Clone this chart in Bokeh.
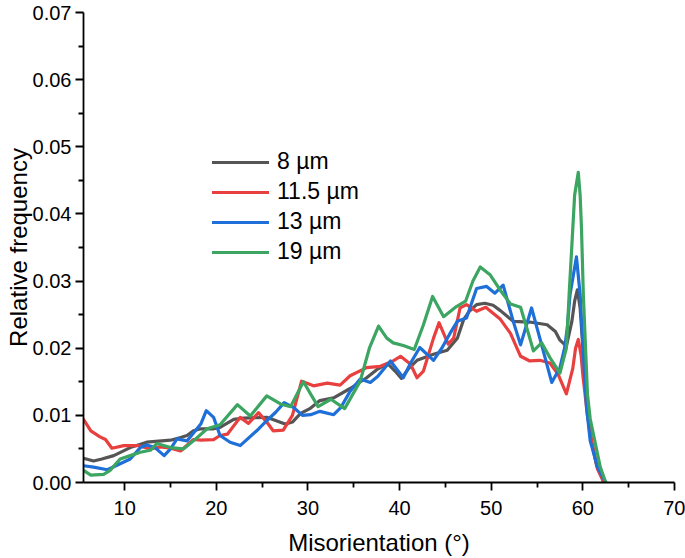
from bokeh.plotting import figure
from bokeh.models import Range1d, FixedTicker, Legend, LegendItem, NumeralTickFormatter
from bokeh.embed import file_html
from bokeh.resources import INLINE

# ---- data ----
series_names = ["8 µm", "11.5 µm", "13 µm", "19 µm"]
series_colors = ["#555555", "#e8403f", "#1f6fd9", "#3ba561"]

x_8um = [5.5, 6.6, 7.5, 8.8, 10.6, 12.4, 15.0, 16.1, 16.8, 17.5, 18.3, 19.7, 20.4, 21.9,
         23.0, 25.5, 27.5, 28.3, 29.2, 30.2, 31.3, 32.8, 34.6, 36.4, 37.5, 38.7, 39.5,
         40.2, 41.0, 41.9, 43.7, 45.2, 46.3, 47.0, 47.6, 48.4, 49.3, 50.2, 51.0, 52.4,
         54.2, 56.1, 57.0, 57.5, 58.2, 58.8, 59.1, 59.4, 59.7, 60.0, 60.4, 60.8, 61.5, 62.3]
y_8um = [0.0036, 0.0032, 0.0035, 0.0040, 0.0052, 0.0060, 0.0063, 0.0067, 0.0070, 0.0077,
         0.0080, 0.0080, 0.0082, 0.0094, 0.0096, 0.0097, 0.0087, 0.0090, 0.0103, 0.0110,
         0.0122, 0.0126, 0.0140, 0.0156, 0.0168, 0.0177, 0.0166, 0.0155, 0.0170, 0.0182,
         0.0191, 0.0197, 0.0215, 0.0243, 0.0255, 0.0265, 0.0267, 0.0264, 0.0256, 0.0240,
         0.0239, 0.0235, 0.0225, 0.0212, 0.0203, 0.0240, 0.0270, 0.0287, 0.0260, 0.0200,
         0.0120, 0.0070, 0.0025, 0.0000]

x_11um = [5.5, 6.3, 7.3, 7.9, 8.6, 9.9, 11.4, 12.8, 13.9, 15.0, 16.1, 17.5, 18.3, 19.7,
          20.4, 21.2, 22.6, 23.5, 24.6, 25.5, 26.2, 27.3, 28.3, 29.3, 30.6, 32.1, 33.5,
          34.6, 36.4, 37.9, 39.3, 40.1, 41.2, 41.9, 42.6, 43.7, 44.3, 45.3, 45.9, 46.6,
          47.3, 48.4, 49.4, 51.0, 52.1, 53.2, 54.2, 55.3, 56.4, 57.3, 58.2, 58.9, 59.2,
          59.5, 59.8, 60.0, 60.5, 61.0, 61.6, 62.3]
y_11um = [0.0094, 0.0077, 0.0068, 0.0064, 0.0051, 0.0055, 0.0055, 0.0050, 0.0053, 0.0051,
          0.0047, 0.0064, 0.0063, 0.0064, 0.0070, 0.0072, 0.0097, 0.0088, 0.0104, 0.0090,
          0.0077, 0.0078, 0.0100, 0.0151, 0.0144, 0.0148, 0.0145, 0.0159, 0.0171, 0.0173,
          0.0181, 0.0188, 0.0176, 0.0156, 0.0166, 0.0215, 0.0238, 0.0206, 0.0215, 0.0260,
          0.0265, 0.0255, 0.0261, 0.0243, 0.0222, 0.0188, 0.0181, 0.0182, 0.0178, 0.0161,
          0.0132, 0.0170, 0.0200, 0.0213, 0.0190, 0.0160, 0.0100, 0.0060, 0.0020, 0.0000]

x_13um = [5.5, 6.6, 8.1, 9.5, 10.6, 11.7, 12.4, 13.3, 14.3, 15.0, 15.7, 16.8, 18.3, 18.9,
          19.7, 20.4, 21.5, 22.6, 24.4, 25.5, 26.5, 27.4, 28.4, 29.4, 30.3, 31.3, 32.8,
          33.6, 34.6, 35.7, 36.8, 37.6, 39.0, 40.4, 41.2, 42.2, 43.7, 44.6, 45.5, 46.3,
          47.3, 48.4, 49.5, 50.4, 51.3, 52.4, 53.2, 54.4, 55.3, 56.6, 57.5, 58.0, 58.3,
          58.6, 59.3, 59.7, 59.9, 60.2, 60.4, 60.8, 61.6, 62.5]
y_13um = [0.0025, 0.0023, 0.0019, 0.0028, 0.0035, 0.0052, 0.0056, 0.0052, 0.0040, 0.0050,
          0.0065, 0.0062, 0.0087, 0.0107, 0.0097, 0.0070, 0.0060, 0.0055, 0.0077, 0.0092,
          0.0105, 0.0119, 0.0112, 0.0100, 0.0101, 0.0106, 0.0101, 0.0112, 0.0136, 0.0154,
          0.0149, 0.0158, 0.0181, 0.0156, 0.0178, 0.0201, 0.0182, 0.0200, 0.0222, 0.0240,
          0.0245, 0.0289, 0.0292, 0.0282, 0.0294, 0.0240, 0.0205, 0.0260, 0.0215, 0.0149,
          0.0171, 0.0200, 0.0230, 0.0280, 0.0336, 0.0280, 0.0230, 0.0156, 0.0112, 0.0062,
          0.0023, 0.0000]

x_19um = [5.5, 6.3, 7.7, 8.4, 9.5, 10.6, 11.7, 12.8, 13.5, 15.0, 16.4, 17.5, 19.0, 20.4,
          22.3, 23.7, 25.5, 27.0, 28.1, 29.5, 31.1, 32.5, 34.0, 35.7, 36.7, 37.7, 38.6,
          39.3, 40.4, 41.6, 42.6, 43.6, 44.8, 46.2, 47.2, 48.0, 48.8, 49.9, 51.0, 52.1,
          53.2, 54.1, 54.6, 55.5, 56.4, 57.5, 58.2, 58.5, 58.9, 59.1, 59.5, 59.7, 59.85,
          60.05, 60.5, 60.8, 61.3, 61.9, 62.5]
y_19um = [0.0018, 0.0011, 0.0012, 0.0018, 0.0035, 0.0040, 0.0045, 0.0048, 0.0058, 0.0052,
          0.0050, 0.0062, 0.0080, 0.0086, 0.0116, 0.0099, 0.0129, 0.0117, 0.0113, 0.0150,
          0.0113, 0.0124, 0.0110, 0.0151, 0.0200, 0.0233, 0.0215, 0.0208, 0.0204, 0.0198,
          0.0235, 0.0277, 0.0247, 0.0262, 0.0270, 0.0300, 0.0321, 0.0309, 0.0286, 0.0266,
          0.0261, 0.0220, 0.0196, 0.0208, 0.0186, 0.0163, 0.0200, 0.0280, 0.0378, 0.0428,
          0.0462, 0.0428, 0.0378, 0.0280, 0.0132, 0.0095, 0.0062, 0.0023, 0.0000]

x_ticks = [10, 20, 30, 40, 50, 60, 70]
x_minor_ticks = [15, 25, 35, 45, 55, 65]
y_ticks = [0.00, 0.01, 0.02, 0.03, 0.04, 0.05, 0.06, 0.07]
y_minor_ticks = [0.005, 0.015, 0.025, 0.035, 0.045, 0.055, 0.065]

FONT = "Liberation Sans"

p = figure(width=685, height=558, output_backend="svg", toolbar_location=None,
           x_range=Range1d(5.5, 70), y_range=Range1d(0, 0.07),
           min_border_left=83, min_border_right=11, min_border_top=12, min_border_bottom=76)
p.outline_line_color = None
p.xgrid.visible = False
p.ygrid.visible = False
p.background_fill_color = "white"
p.border_fill_color = "white"

renderers = []
for xs, ys, col in [(x_8um, y_8um, series_colors[0]), (x_11um, y_11um, series_colors[1]),
                    (x_13um, y_13um, series_colors[2]), (x_19um, y_19um, series_colors[3])]:
    r = p.line(xs, ys, line_color=col, line_width=3.2, line_join="round", line_cap="round")
    renderers.append(r)

for ax in (p.xaxis[0], p.yaxis[0]):
    ax.axis_line_color = "black"
    ax.axis_line_width = 1.8
    ax.major_tick_line_color = "black"
    ax.major_tick_line_width = 1.8
    ax.minor_tick_line_color = "black"
    ax.minor_tick_line_width = 1.8
    ax.major_tick_out = 8
    ax.major_tick_in = 0
    ax.minor_tick_out = 5
    ax.minor_tick_in = 0
    ax.major_label_text_font = FONT
    ax.major_label_text_font_size = "20px"
    ax.major_label_text_color = "black"
    ax.axis_label_text_font = FONT
    ax.axis_label_text_font_size = "24px"
    ax.axis_label_text_font_style = "normal"
    ax.axis_label_text_color = "black"

p.xaxis.ticker = FixedTicker(ticks=x_ticks, minor_ticks=x_minor_ticks)
p.yaxis.ticker = FixedTicker(ticks=y_ticks, minor_ticks=y_minor_ticks)
p.yaxis.formatter = NumeralTickFormatter(format="0.00")
p.xaxis.axis_label = "Misorientation (°)"
p.yaxis.axis_label = "Relative frequency"
p.xaxis.major_label_standoff = 10
p.xaxis.axis_label_standoff = 11
p.yaxis.major_label_standoff = 4
p.yaxis.axis_label_standoff = -2

items = [LegendItem(label=n, renderers=[r]) for n, r in zip(series_names, renderers)]
legend = Legend(items=items, location=(129, 217), orientation="vertical")
legend.border_line_alpha = 0
legend.background_fill_alpha = 0
legend.padding = 0
legend.margin = 0
legend.spacing = 3
legend.glyph_width = 57
legend.glyph_height = 24
legend.label_height = 24
legend.label_standoff = 8
legend.label_text_font = FONT
legend.label_text_font_size = "23px"
legend.label_text_color = "black"
p.add_layout(legend, "center")

open("out.html", "w").write(file_html(p, INLINE))
